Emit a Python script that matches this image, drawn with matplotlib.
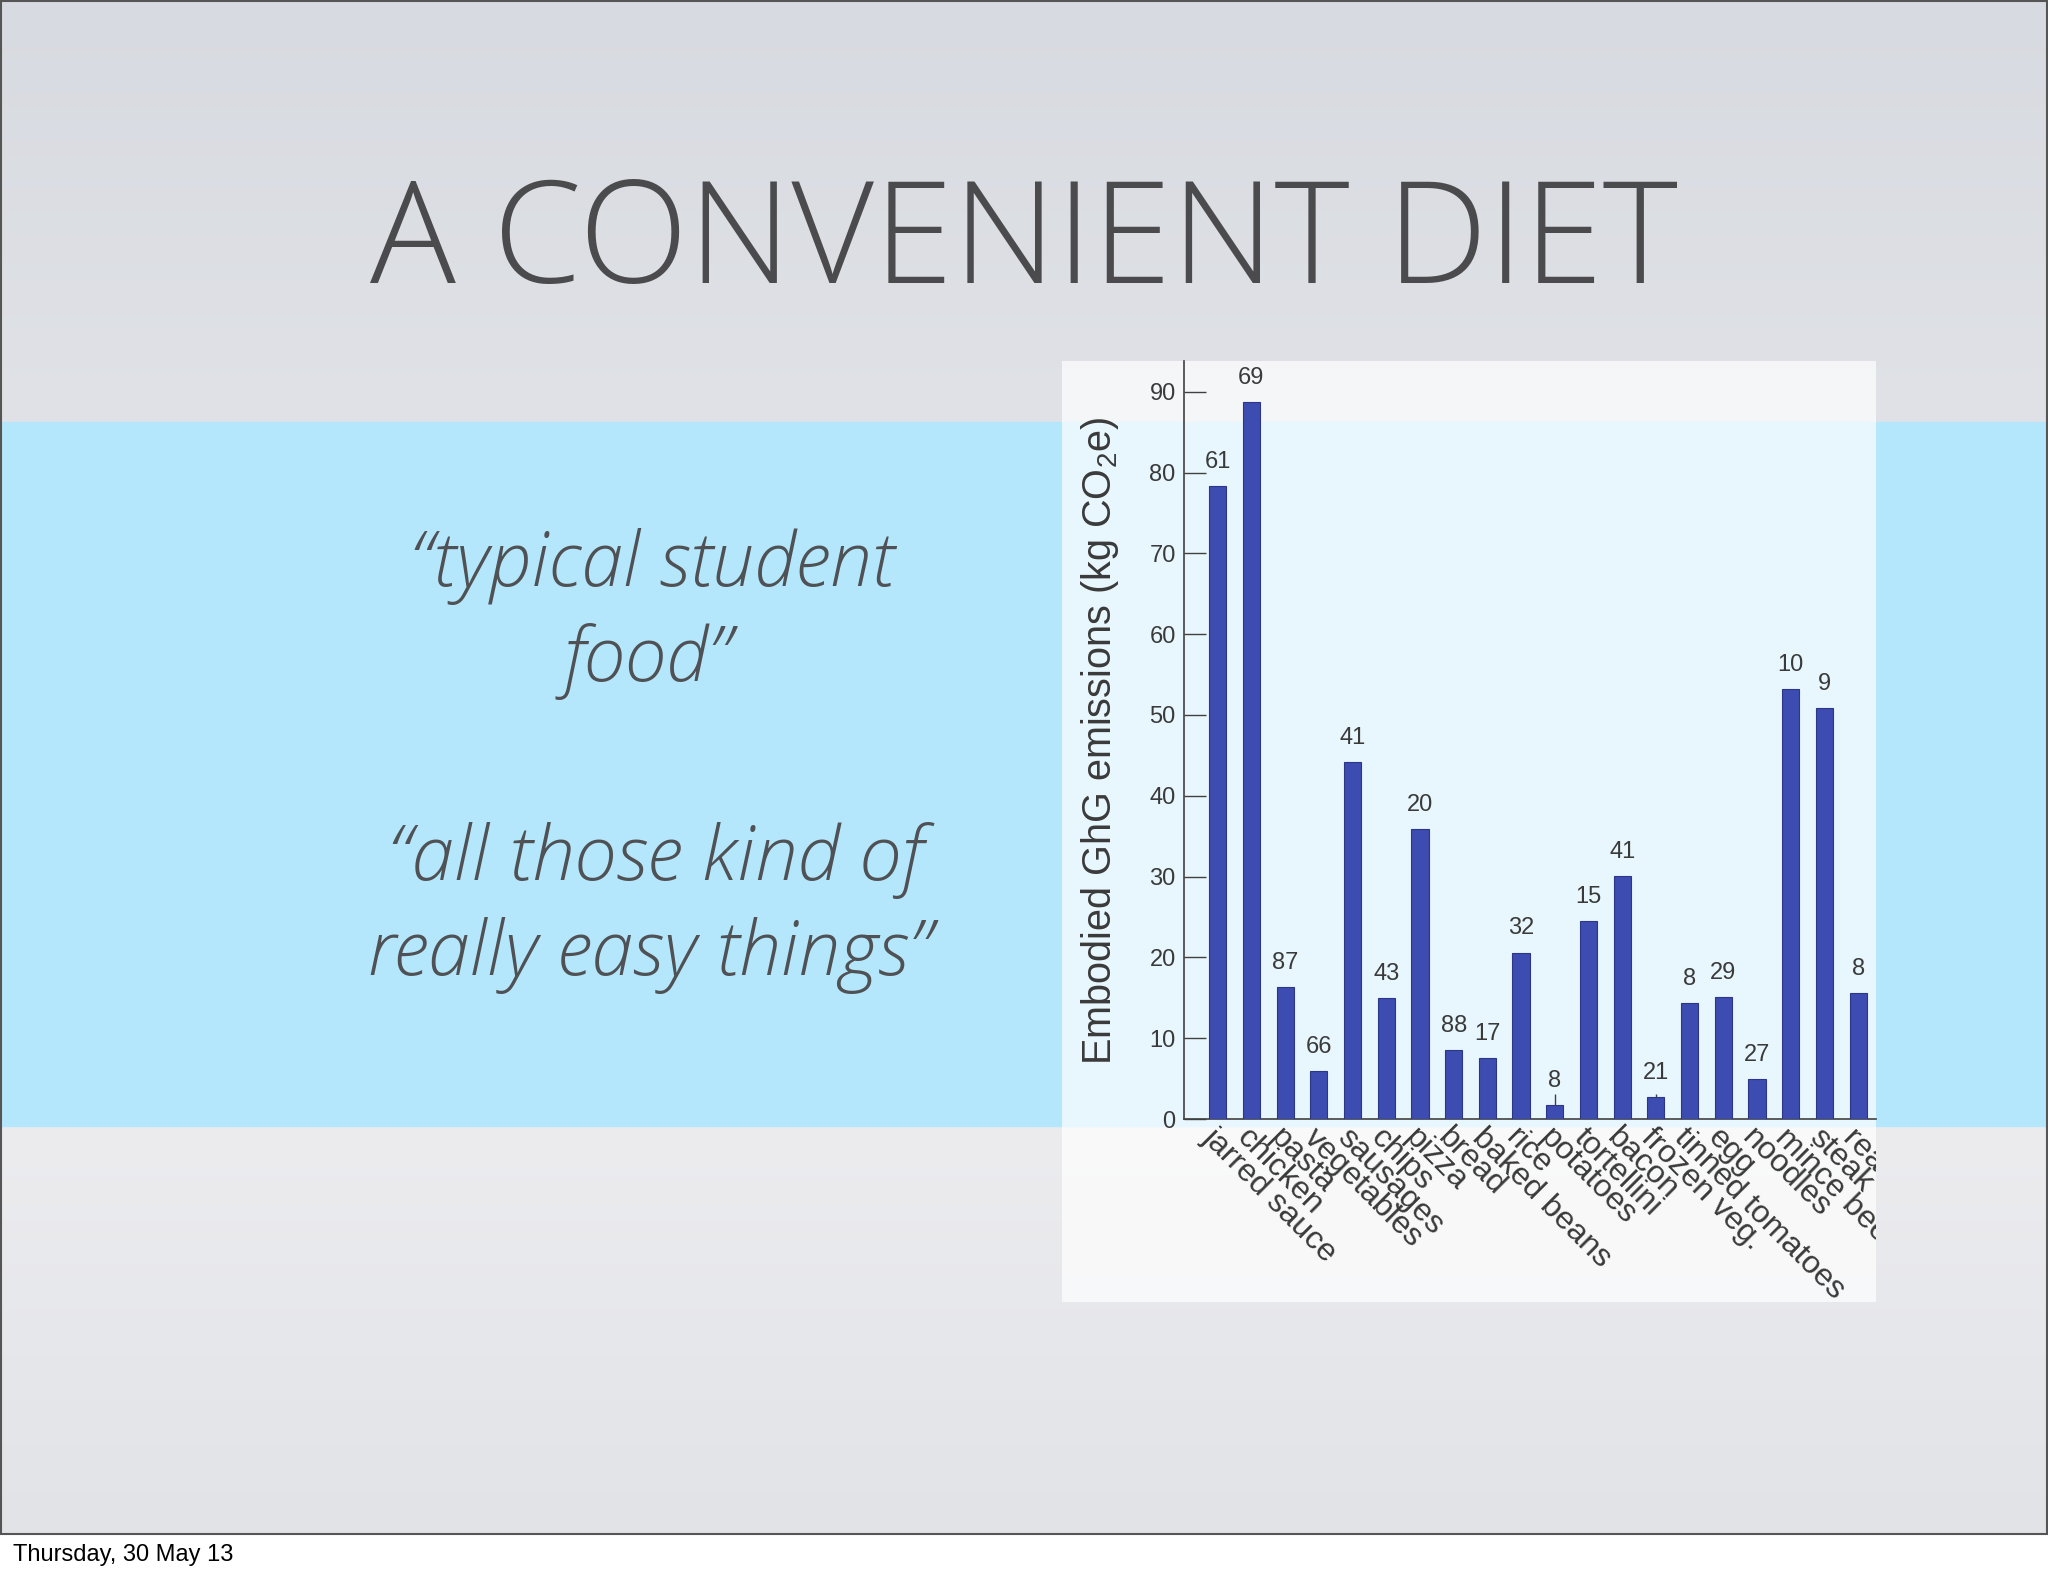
import numpy as np
import matplotlib.pyplot as plt
from matplotlib.colors import to_rgb
from matplotlib.patches import Rectangle
from matplotlib.transforms import Bbox, TransformedBbox

# data
foods = ["jarred sauce", "chicken", "pasta", "vegetables", "sausages", "chips",
         "pizza", "bread", "baked beans", "rice", "potatoes", "tortellini",
         "bacon", "frozen veg.", "tinned tomatoes", "egg", "noodles",
         "mince beef", "steak", "ready meals"]
emissions = [78.3, 88.7, 16.3, 5.9, 44.2, 15.0, 35.9, 8.5, 7.6, 20.6, 1.7, 24.5,
             30.1, 2.7, 14.3, 15.1, 4.9, 53.2, 50.9, 15.6]
samples = [61, 69, 87, 66, 41, 43, 20, 88, 17, 32, 8, 15, 41, 21, 8, 29, 27, 10, 9, 8]
errors = [0, 0, 0, 0, 0, 0, 0, 0, 0, 0, 1.4, 0, 0, 0.4, 0, 0, 0, 0, 0, 0]
yticks = [0, 10, 20, 30, 40, 50, 60, 70, 80, 90]

W, H = 2048, 1576
plt.rcParams['mathtext.fontset'] = 'custom'
plt.rcParams['mathtext.rm'] = 'Liberation Sans'
plt.rcParams['mathtext.it'] = 'Liberation Sans:italic'
sans = ['Liberation Sans', 'DejaVu Sans']
gill = ['Open Sans', 'Lato', 'DejaVu Sans']

fig = plt.figure(figsize=(W / 100, H / 100), dpi=100, facecolor='white')

# slide background, in pixel coordinates
bg = fig.add_axes([0, 0, 1, 1])
bg.axis('off')
slide_h = 1534
stops_y = [0, 420, 1130, slide_h]
stops_c = ['#d7dae0', '#e0e2e7', '#ececef', '#e1e3e7']
ys = np.arange(slide_h)
grad = np.stack([np.interp(ys, stops_y, [to_rgb(c)[k] for c in stops_c]) for k in range(3)], axis=-1)
bg.imshow(grad[:, None, :], extent=(0, W, slide_h, 0), aspect='auto', zorder=0)
bg.set_xlim(0, W)
bg.set_ylim(H, 0)

bg.add_patch(Rectangle((0, 422), W, 1126 - 422, color='#b4e7fc', zorder=1))
bg.add_patch(Rectangle((1062, 361), 1876 - 1062, 1302 - 361, facecolor='white',
                       alpha=0.7, edgecolor='none', zorder=2))
bg.add_patch(Rectangle((1, 1), W - 2, slide_h - 1, fill=False, edgecolor='#555555',
                       lw=1.5, zorder=3))

bg.text(1024, 283, 'A CONVENIENT DIET', ha='center', va='baseline', fontsize=103,
        family=gill, weight='light', color='#4b4b4d')
quote_lines = [('\u201ctypical student', 652, 586, 54), ('food\u201d', 648, 681, 54),
               ('\u201call those kind of', 656, 880, 55), ('really easy things\u201d', 650, 975, 54)]
for line, qx, qy, qs in quote_lines:
    bg.text(qx, qy, line, ha='center', va='baseline', fontsize=qs, family=gill,
            weight='light', style='italic', color='#4f5154')
bg.text(13, 1561, 'Thursday, 30 May 13', ha='left', va='baseline', fontsize=17,
        family=sans, color='black')

# the chart
ax = fig.add_axes([1184 / W, (H - 1119) / H, (1876 - 1184) / W, (1119 - 361) / H])
ax.patch.set_visible(False)
x = np.arange(len(foods))
ax.bar(x, emissions, width=0.51, color='#3d4cb1', edgecolor='#2c3688', linewidth=0.8, zorder=3)
ex = [i for i, e in enumerate(errors) if e > 0]
ax.errorbar(ex, [emissions[i] for i in ex], yerr=[[0] * len(ex), [errors[i] for i in ex]],
            fmt='none', ecolor='#404040', elinewidth=1, capsize=0, zorder=4)
for xi, v, n in zip(x, emissions, samples):
    ax.annotate(str(n), (xi, v), xytext=(0, 13), textcoords='offset points', ha='center',
                va='baseline', fontsize=17, family=sans, color='#3a3a3a')

ax.set_xlim(-1, 19.53)
ax.set_ylim(0, 93.8)
ax.set_yticks(yticks)
ax.tick_params(axis='y', direction='in', length=16, width=1, color='#404040',
               labelsize=17, labelcolor='#3a3a3a', pad=6)
for t in ax.get_yticklabels():
    t.set_family(sans)
ax.set_xticks(x, foods, rotation=-45, ha='left', va='top', rotation_mode='anchor')
ax.tick_params(axis='x', length=0, pad=3, labelsize=23, labelcolor='#3a3a3a')
clip = TransformedBbox(Bbox.from_extents(1062 / W, (H - 1302) / H, 1876 / W, (H - 361) / H),
                       fig.transFigure)
for t in ax.get_xticklabels():
    t.set_family(sans)
    t.set_clip_box(clip)
    t.set_clip_on(True)
for s in ['top', 'right']:
    ax.spines[s].set_visible(False)
for s in ['left', 'bottom']:
    ax.spines[s].set_color('#404040')
    ax.spines[s].set_linewidth(1.2)

fig.text(1111 / W, (H - 741) / H, 'Embodied GhG emissions (kg CO$_2$e)', rotation=90,
         rotation_mode='anchor', ha='center', va='baseline', fontsize=28.5,
         family=sans, color='#3a3a3a')

fig.savefig('out.png', dpi=100)
